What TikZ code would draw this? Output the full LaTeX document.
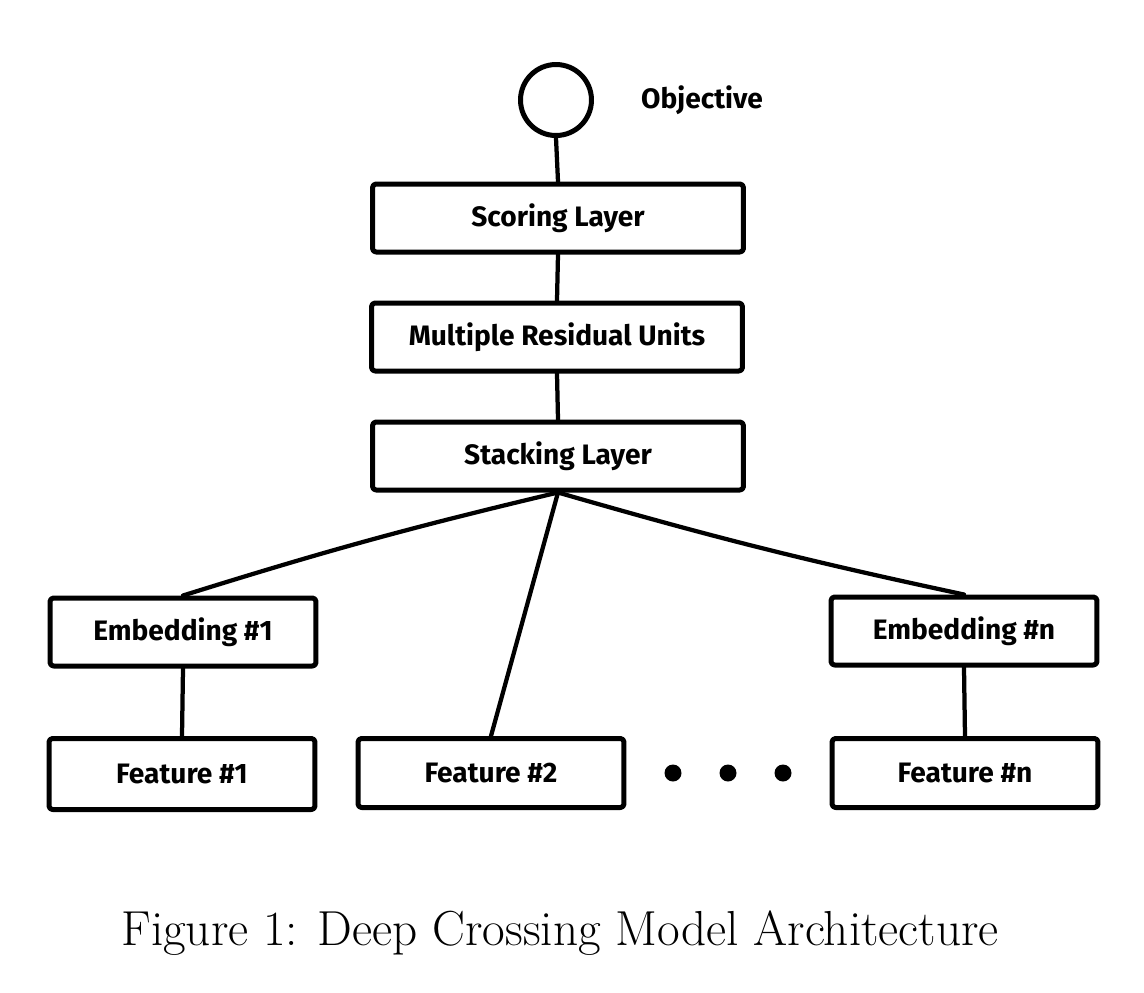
\documentclass[tikz,border=0pt]{standalone}
\usepackage{fontspec}
\usepackage{tikz}
\usetikzlibrary{calc}
\newfontfamily\sketchfont{Fira Sans}
\tikzset{
	sketch/.style={line width=0.1cm, line join=round, line cap=round},
	boxfont/.style={font=\sketchfont\bfseries\fontsize{16}{18}\selectfont},
	layerbox/.style={sketch, draw, boxfont, rounded corners=2pt, minimum width=7.42cm, minimum height=1.36cm},
	inputbox/.style={sketch, draw, boxfont, rounded corners=2pt, minimum width=5.32cm, minimum height=1.36cm},
	wire/.style={sketch, line width=0.085cm}
}

\begin{document}
\begin{tikzpicture}[x=0.02cm, y=-0.02cm]
			%%%%% START %%%%%
			
			\useasboundingbox[fill=white] (0, 0) rectangle (1144, 992);
			
			\node[sketch, draw, circle, minimum size=1.42cm, inner sep=0pt] (obj) at (556, 100) {};
			\node[boxfont] (objlabel) at (702, 100) {Objective};
			
			\node[layerbox] (score) at (558, 218) {Scoring Layer};
			\node[layerbox] (resid) at (557, 337) {Multiple Residual Units};
			\node[layerbox] (stack) at (558, 456) {Stacking Layer};
			
			\node[inputbox] (emb1) at (183, 632) {Embedding \#1};
			\node[inputbox] (embn) at (964, 631) {Embedding \#n};
			
			\node[inputbox, minimum height=1.42cm] (feat1) at (182, 774) {Feature \#1};
			\node[inputbox, minimum height=1.38cm] (feat2) at (491, 773) {Feature \#2};
			\node[inputbox, minimum height=1.38cm] (featn) at (965, 773) {Feature \#n};
			
			\foreach \x [count=\i] in {673, 728, 783}
				\node[fill, circle, inner sep=0pt, minimum size=0.34cm] (dot\i) at (\x, 773) {};
			
			\draw[wire] (obj.south) -- (score.north);
			\draw[wire] (score.south) -- (resid.north);
			\draw[wire] (resid.south) -- (stack.north);
			
			\draw[wire] (stack.south) to[bend right=2] (emb1.north);
			\draw[wire] (stack.south) -- (feat2.north);
			\draw[wire] (stack.south) to[bend right=2] (embn.north);
			
			\draw[wire] (emb1.south) -- (feat1.north);
			\draw[wire] (embn.south) -- (featn.north);
			
			\node[font=\fontsize{28}{34}\selectfont] (caption) at (560, 933) {Figure 1: Deep Crossing Model Architecture};
			
			%%%%% END %%%%%
		\end{tikzpicture}
\end{document}
